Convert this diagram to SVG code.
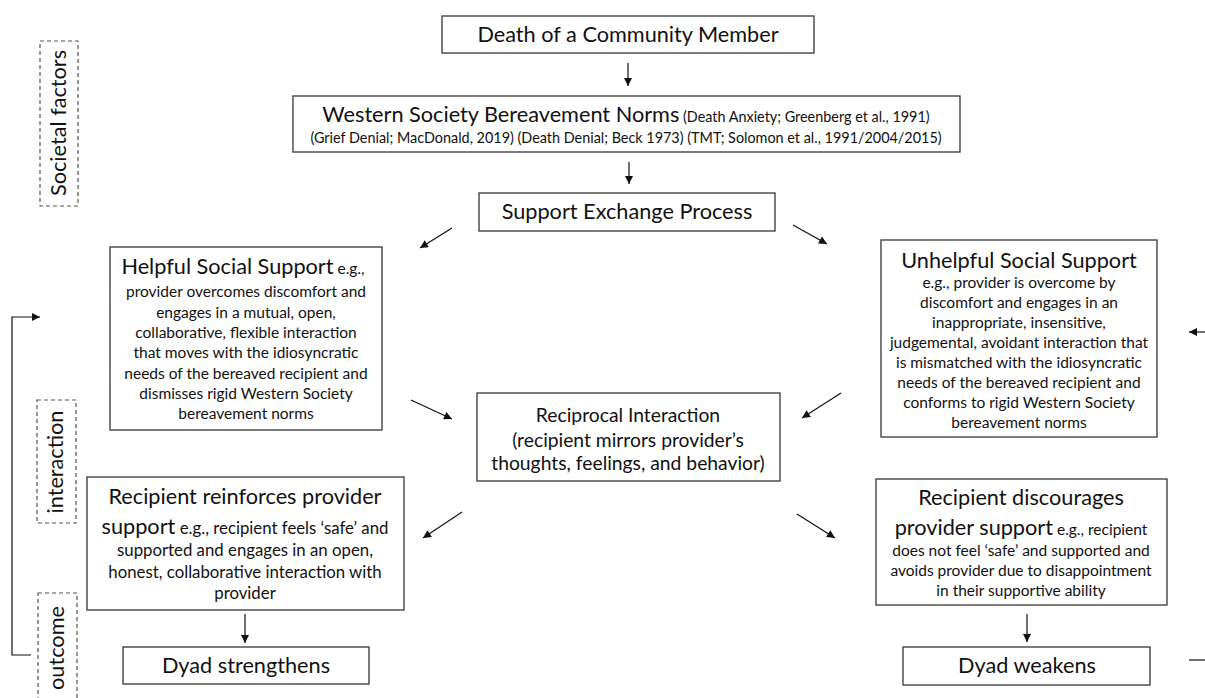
<svg xmlns="http://www.w3.org/2000/svg" width="1205" height="698" viewBox="0 0 1205 698">
<defs>
<marker id="ah" viewBox="0 0 10 10" refX="10" refY="5" markerWidth="9" markerHeight="8" markerUnits="userSpaceOnUse" orient="auto">
<path d="M0,0 L10,5 L0,10 Z" fill="#111"/>
</marker>
</defs>
<style>
.box{fill:#fff;stroke:#444;stroke-width:1.4}
.dash{fill:none;stroke:#555;stroke-width:1.2;stroke-dasharray:4 3}
.t{font-family:Lato,"Open Sans","Liberation Sans",sans-serif;fill:#111;text-anchor:middle}
.big{font-size:21.7px}
.sm{font-size:15.5px}
.ref{font-size:14.4px}
.sm2{font-size:16.8px}
.mid{font-size:19.3px}
.con{stroke:#111;stroke-width:1.2;fill:none}
</style>
<rect width="1205" height="698" fill="#fff"/>

<g id="label-societal">
<rect class="dash" x="40" y="41" width="38" height="165"/>
<text class="t big" transform="translate(66,123) rotate(-90)">Societal factors</text>
</g>
<g id="label-interaction">
<rect class="dash" x="37" y="400" width="39" height="123"/>
<text class="t big" transform="translate(63,462) rotate(-90)">interaction</text>
</g>
<g id="label-outcome">
<rect class="dash" x="38" y="593" width="39" height="120"/>
<text class="t big" transform="translate(64,648) rotate(-90)">outcome</text>
</g>

<g id="death">
<rect class="box" x="442" y="16" width="372" height="37"/>
<text class="t big" x="628" y="42">Death of a Community Member</text>
</g>

<g id="western">
<rect class="box" x="293" y="96" width="667" height="56"/>
<text class="t" x="626" y="122"><tspan class="big">Western Society Bereavement Norms</tspan><tspan class="ref"> (Death Anxiety; Greenberg et al., 1991)</tspan></text>
<text class="t ref" x="626" y="143">(Grief Denial; MacDonald, 2019) (Death Denial; Beck 1973) (TMT; Solomon et al., 1991/2004/2015)</text>
</g>

<g id="support-exchange">
<rect class="box" x="479" y="193" width="296" height="38"/>
<text class="t big" x="627" y="219">Support Exchange Process</text>
</g>

<g id="helpful">
<rect class="box" x="110" y="247" width="272" height="183"/>
<text class="t" x="243" y="274"><tspan class="big">Helpful Social Support</tspan><tspan class="sm">  e.g.,</tspan></text>
<text class="t sm" x="246" y="297">provider overcomes discomfort and</text>
<text class="t sm" x="246" y="318">engages in a mutual, open,</text>
<text class="t sm" x="246" y="338">collaborative, flexible interaction</text>
<text class="t sm" x="246" y="358">that moves with the idiosyncratic</text>
<text class="t sm" x="246" y="379">needs of the bereaved recipient and</text>
<text class="t sm" x="246" y="399">dismisses rigid Western Society</text>
<text class="t sm" x="246" y="419">bereavement norms</text>
</g>

<g id="unhelpful">
<rect class="box" x="881" y="240" width="276" height="197"/>
<text class="t big" x="1019" y="268">Unhelpful Social Support</text>
<text class="t sm" x="1019" y="288">e.g., provider is overcome by</text>
<text class="t sm" x="1019" y="308">discomfort and engages in an</text>
<text class="t sm" x="1019" y="328">inappropriate, insensitive,</text>
<text class="t sm" x="1019" y="348">judgemental, avoidant interaction that</text>
<text class="t sm" x="1019" y="368">is mismatched with the idiosyncratic</text>
<text class="t sm" x="1019" y="388">needs of the bereaved recipient and</text>
<text class="t sm" x="1019" y="408">conforms to rigid Western Society</text>
<text class="t sm" x="1019" y="428">bereavement norms</text>
</g>

<g id="reciprocal">
<rect class="box" x="477" y="393" width="303" height="88"/>
<text class="t mid" x="628" y="422">Reciprocal Interaction</text>
<text class="t mid" x="628" y="447">(recipient mirrors provider’s</text>
<text class="t mid" x="628" y="470">thoughts, feelings, and behavior)</text>
</g>

<g id="reinforces">
<rect class="box" x="87" y="477" width="317" height="133"/>
<text class="t big" x="245" y="504">Recipient reinforces provider</text>
<text class="t" x="245" y="534"><tspan class="big">support</tspan><tspan class="sm2"> e.g., recipient feels ‘safe’ and</tspan></text>
<text class="t sm2" x="245" y="556">supported and engages in an open,</text>
<text class="t sm2" x="245" y="578">honest, collaborative interaction with</text>
<text class="t sm2" x="245" y="599">provider</text>
</g>

<g id="discourages">
<rect class="box" x="876" y="479" width="291" height="126"/>
<text class="t big" x="1021" y="505">Recipient discourages</text>
<text class="t" x="1021" y="535"><tspan class="big">provider support</tspan><tspan class="sm"> e.g., recipient</tspan></text>
<text class="t sm" x="1021" y="556">does not feel ‘safe’ and supported and</text>
<text class="t sm" x="1021" y="576">avoids provider due to disappointment</text>
<text class="t sm" x="1021" y="596">in their supportive ability</text>
</g>

<g id="dyad-strengthens">
<rect class="box" x="123" y="647" width="246" height="37"/>
<text class="t big" x="246" y="673">Dyad strengthens</text>
</g>

<g id="dyad-weakens">
<rect class="box" x="903" y="647" width="247" height="38"/>
<text class="t big" x="1027" y="673">Dyad weakens</text>
</g>

<g id="connectors">
<line class="con" x1="628" y1="63" x2="628" y2="86" marker-end="url(#ah)"/>
<line class="con" x1="629" y1="162" x2="629" y2="184" marker-end="url(#ah)"/>
<line class="con" x1="452" y1="228" x2="420" y2="248" marker-end="url(#ah)"/>
<line class="con" x1="793" y1="225" x2="827" y2="244" marker-end="url(#ah)"/>
<line class="con" x1="411" y1="400" x2="452" y2="419" marker-end="url(#ah)"/>
<line class="con" x1="841" y1="393" x2="802" y2="418" marker-end="url(#ah)"/>
<line class="con" x1="462" y1="512" x2="423" y2="538" marker-end="url(#ah)"/>
<line class="con" x1="797" y1="514" x2="835" y2="538" marker-end="url(#ah)"/>
<line class="con" x1="245" y1="614" x2="245" y2="643" marker-end="url(#ah)"/>
<line class="con" x1="1027" y1="614" x2="1027" y2="642" marker-end="url(#ah)"/>
<polyline class="con" points="31,655 12,655 12,317 40,317" marker-end="url(#ah)"/>
<line class="con" x1="1189" y1="660" x2="1205" y2="660"/>
<line class="con" x1="1205" y1="332" x2="1189" y2="332" marker-end="url(#ah)"/>
</g>
</svg>
